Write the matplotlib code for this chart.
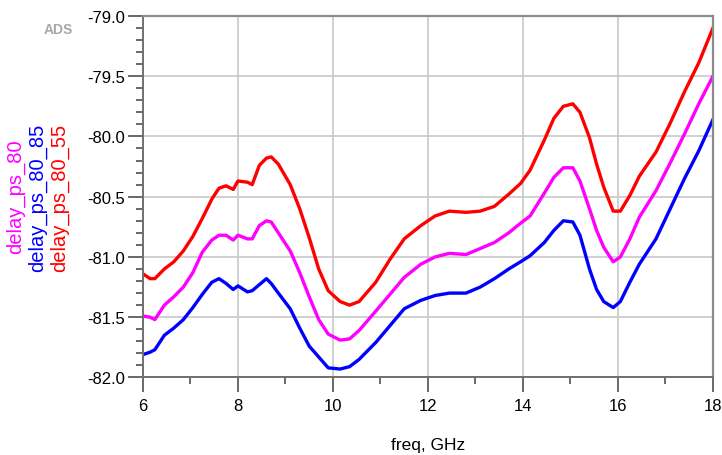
import numpy as np
import matplotlib
matplotlib.use('Agg')
import matplotlib.pyplot as plt
from matplotlib.ticker import MultipleLocator, FormatStrFormatter

plt.rcParams['font.family'] = ['Liberation Sans', 'DejaVu Sans']

# frequency points, GHz
freq = [6.0, 6.15, 6.25, 6.45, 6.65, 6.85, 7.05, 7.25, 7.45, 7.6,
        7.75, 7.9, 8.0, 8.2, 8.3, 8.45, 8.6, 8.7, 8.85, 9.1,
        9.3, 9.5, 9.7, 9.9, 10.15, 10.35, 10.55, 10.9, 11.2, 11.5,
        11.85, 12.15, 12.45, 12.8, 13.1, 13.4, 13.7, 13.95, 14.15, 14.45,
        14.65, 14.85, 15.05, 15.2, 15.4, 15.55, 15.7, 15.9, 16.05, 16.25,
        16.45, 16.8, 17.1, 17.4, 17.7, 18.0]

# delay traces, ps
delay_80 = [-81.49, -81.50, -81.52, -81.40, -81.33, -81.25, -81.13, -80.96, -80.86, -80.82,
            -80.82, -80.86, -80.82, -80.85, -80.85, -80.74, -80.70, -80.71, -80.80, -80.95,
            -81.13, -81.33, -81.52, -81.64, -81.69, -81.68, -81.61, -81.45, -81.31, -81.17,
            -81.06, -81.00, -80.97, -80.98, -80.93, -80.88, -80.80, -80.72, -80.66, -80.47,
            -80.34, -80.26, -80.26, -80.37, -80.60, -80.78, -80.92, -81.04, -81.00, -80.85,
            -80.67, -80.45, -80.22, -79.98, -79.73, -79.50]

delay_80_85 = [-81.81, -81.79, -81.77, -81.65, -81.59, -81.52, -81.42, -81.31, -81.21, -81.18,
               -81.22, -81.27, -81.24, -81.29, -81.28, -81.23, -81.18, -81.22, -81.30, -81.43,
               -81.59, -81.74, -81.83, -81.92, -81.93, -81.91, -81.85, -81.71, -81.57, -81.43,
               -81.36, -81.32, -81.30, -81.30, -81.25, -81.18, -81.10, -81.04, -80.99, -80.88,
               -80.78, -80.70, -80.71, -80.82, -81.10, -81.27, -81.37, -81.42, -81.37, -81.21,
               -81.06, -80.85, -80.60, -80.35, -80.12, -79.86]

delay_80_55 = [-81.14, -81.18, -81.18, -81.10, -81.04, -80.95, -80.83, -80.68, -80.52, -80.43,
               -80.41, -80.44, -80.37, -80.38, -80.40, -80.24, -80.18, -80.17, -80.23, -80.40,
               -80.60, -80.84, -81.10, -81.28, -81.37, -81.40, -81.37, -81.21, -81.02, -80.85,
               -80.74, -80.66, -80.62, -80.63, -80.62, -80.58, -80.48, -80.39, -80.28, -80.03,
               -79.85, -79.75, -79.73, -79.80, -80.01, -80.23, -80.42, -80.62, -80.62, -80.49,
               -80.33, -80.13, -79.89, -79.63, -79.39, -79.10]

fig = plt.figure(figsize=(7.22, 4.56), dpi=100)
ax = fig.add_axes([0.198, 0.170, 0.7895, 0.793])

ax.plot(freq, delay_80, color='#ff00ff', lw=2.4, solid_joinstyle='round')
ax.plot(freq, delay_80_85, color='#0000ff', lw=2.4, solid_joinstyle='round')
ax.plot(freq, delay_80_55, color='#ff0000', lw=2.4, solid_joinstyle='round')

ax.set_xlim(6, 18)
ax.set_ylim(-82.0, -79.0)
ax.xaxis.set_major_locator(MultipleLocator(2))
ax.xaxis.set_minor_locator(MultipleLocator(1))
ax.yaxis.set_major_locator(MultipleLocator(0.5))
ax.yaxis.set_minor_locator(MultipleLocator(0.1))
ax.yaxis.set_major_formatter(FormatStrFormatter('%.1f'))

ax.grid(True, which='major', color='#c8c8c8', lw=1.2)
ax.set_axisbelow(True)

for s in ['top', 'right']:
    ax.spines[s].set_color('#8c8c8c')
    ax.spines[s].set_linewidth(1.6)
for s in ['left', 'bottom']:
    ax.spines[s].set_color('#707070')
    ax.spines[s].set_linewidth(1.4)

ax.tick_params(which='major', length=11, width=1.1, color='#404040', labelsize=12, pad=2)
ax.tick_params(which='minor', length=5, width=1.1, color='#404040')
ax.tick_params(axis='x', which='major', pad=4)

ax.set_xlabel('freq, GHz', fontsize=12.5, labelpad=17)

# rotated trace names on the left
fig.text(15.5 / 722, 1 - 197 / 456, 'delay_ps_80', color='#ff00ff', fontsize=14.5,
         rotation=90, ha='center', va='center')
fig.text(37.5 / 722, 1 - 198 / 456, 'delay_ps_80_85', color='#0000ff', fontsize=14.5,
         rotation=90, ha='center', va='center')
fig.text(59 / 722, 1 - 198 / 456, 'delay_ps_80_55', color='#ff0000', fontsize=14.5,
         rotation=90, ha='center', va='center')

fig.text(58 / 722, 1 - 30 / 456, 'ADS', color='#a8a8a8', fontsize=10, fontweight='bold',
         ha='center', va='center')

fig.savefig('out.png', dpi=100)
